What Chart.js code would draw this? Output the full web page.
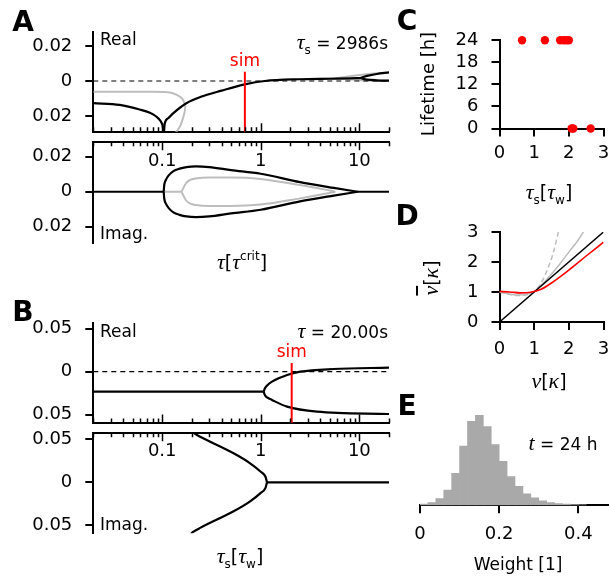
<!DOCTYPE html>
<html lang="en">
<head>
<meta charset="UTF-8">
<title>Eigenvalues and lifetimes</title>
<script src="https://cdn.jsdelivr.net/npm/chart.js@4.4.0/dist/chart.umd.min.js"></script>
<style>
  body { margin: 0; background: #fff; }
  #fig { position: relative; width: 609px; height: 583px; overflow: hidden; font-family: 'DejaVu Sans', sans-serif; color: #000; }
  #fig canvas { position: absolute; left: 0; top: 0; }
  .t, .tl, .tr, .lt, .rot { position: absolute; white-space: nowrap; line-height: 1; font-size: 17px; }
  .t { transform: translate(-50%, -50%); }
  .tl { transform: translateY(-50%); }
  .tr { transform: translateY(-50%); }
  .rot { transform: translate(-50%, -50%) rotate(-90deg); font-size: 18px; }
  .lt { transform: translate(-50%, -50%); font-weight: bold; font-size: 28px; }
  .m { font-family: 'Liberation Serif', serif; font-style: italic; font-size: 22px; }
  .s { font-size: 12px; position: relative; top: 5px; }
  .sup { font-size: 12px; position: relative; top: -9px; }
  .br { font-size: 19px; }
  .ov { text-decoration: overline; }
</style>
</head>
<body>
<div id="fig"></div>
<script>
// ---- data ----
const logMajor = [0.1, 1, 10];
const logLabels = ['0.1', '1', '10'];
const logMinor = [0.02, 0.03, 0.04, 0.05, 0.06, 0.07, 0.08, 0.09,
  0.2, 0.3, 0.4, 0.5, 0.6, 0.7, 0.8, 0.9, 2, 3, 4, 5, 6, 7, 8, 9, 20];

// A: real part, tau_s = 2986 s
const aRealBlkLeft = [[0.02,-0.0127],[0.037,-0.0137],[0.059,-0.0163],[0.075,-0.0182],[0.087,-0.0203],[0.096,-0.0228],[0.101,-0.0255],[0.104,-0.0300]];
const aRealBlkMid = [[0.104,-0.0300],[0.106,-0.0245],[0.115,-0.0213],[0.129,-0.0185],[0.176,-0.0127],[0.243,-0.0092],[0.4,-0.0055],[0.69,-0.0019],[1.1,0.0000],[2.5,0.0010],[5,0.0013],[8,0.0015],[10.2,0.0017]];
const aRealBlkUp = [[10.2,0.0017],[12,0.0029],[15,0.0040],[20,0.0049]];
const aRealBlkLo = [[10.2,0.0017],[12,0.0008],[15,0.0004],[20,0.0002]];
const aRealGrayLeft = [[0.02,-0.0061],[0.08,-0.0062],[0.12,-0.0066],[0.139,-0.0078],[0.155,-0.0095],[0.165,-0.0115],[0.171,-0.0145],[0.17,-0.0168],[0.164,-0.0205],[0.153,-0.0255],[0.136,-0.0300]];
const aRealGrayUp = [[3,0.0011],[5,0.0014],[5.7,0.0016],[8,0.0027],[10,0.0034],[14,0.0043],[20,0.0049]];
const aRealGrayLo = [[5.7,0.0016],[8,0.0009],[10,0.0005],[14,0.0002],[20,0.0001]];
const zeroLine = [[0.02,0],[20,0]];
const simA = 0.69, simTopA = 0.0053;

// A: imaginary part
const aImagBlkUp = [[0.1035,0],[0.105,0.0040],[0.109,0.0068],[0.117,0.0095],[0.13,0.0118],[0.15,0.0132],[0.176,0.0141],[0.22,0.0145],[0.3,0.0141],[0.5,0.0124],[1,0.0103],[2.5,0.0055],[5.5,0.0022],[9.7,0]];
const aImagBlkLo = [[0.1035,0],[0.105,-0.0040],[0.109,-0.0068],[0.117,-0.0095],[0.13,-0.0118],[0.15,-0.0132],[0.176,-0.0141],[0.22,-0.0145],[0.3,-0.0141],[0.5,-0.0124],[1,-0.0103],[2.5,-0.0055],[5.5,-0.0022],[9.7,0]];
const aImagBlkZeroL = [[0.02,0],[0.1035,0]];
const aImagBlkZeroR = [[9.7,0],[20,0]];
const aImagGrayUp = [[0.157,0],[0.175,0.0050],[0.19,0.0066],[0.22,0.0076],[0.3,0.0081],[0.5,0.0081],[1,0.0073],[2.5,0.0038],[4.5,0.0012],[5.7,0]];
const aImagGrayLo = [[0.157,0],[0.175,-0.0050],[0.19,-0.0066],[0.22,-0.0076],[0.3,-0.0081],[0.5,-0.0081],[1,-0.0073],[2.5,-0.0038],[4.5,-0.0012],[5.7,0]];
const aImagGrayZero = [[0.1035,0],[0.157,0]];

// B: real part, tau = 20 s
const bRealBlkFlat = [[0.02,-0.0233],[1.07,-0.0233]];
const bRealBlkUp = [[1.07,-0.0233],[1.1,-0.0195],[1.16,-0.0160],[1.3,-0.0116],[1.85,-0.0038],[2.52,0.0000],[5.45,0.0031],[20,0.0047]];
const bRealBlkLo = [[1.07,-0.0233],[1.1,-0.0270],[1.16,-0.0300],[1.3,-0.0329],[1.85,-0.0407],[3.72,-0.0465],[20,-0.0492]];
const simB = 2.06, simTopB = 0.0101;

// B: imaginary part
const bImagBlkUp = [[0.195,0.0600],[0.206,0.0577],[0.243,0.0530],[0.53,0.0337],[0.78,0.0221],[1.0,0.0123],[1.117,0.0065],[1.157,0]];
const bImagBlkLo = [[0.195,-0.0600],[0.206,-0.0577],[0.243,-0.0530],[0.53,-0.0337],[0.78,-0.0221],[1.0,-0.0123],[1.117,-0.0065],[1.157,0]];
const bImagBlkZero = [[1.157,0],[20,0]];

const yTicksA = [-0.02, 0, 0.02], yLabelsA = ['0.02', '0', '0.02'];
const yTicksB = [-0.05, 0, 0.05], yLabelsB = ['0.05', '0', '0.05'];

// C: lifetime vs tau_s
const cTau = [0.65, 1.31, 1.75, 1.85, 1.93, 2.0, 2.08, 2.13, 2.63];
const cLife = [24, 24, 24, 24, 24, 24, 0, 0, 0];
const cXTicks = [0, 1, 2, 3], cYTicks = [0, 6, 12, 18, 24];

// D: nu-bar vs nu
const dIdentity = [[0,0],[3,3]];
const dRed = [[0,1.02],[0.3,1.0],[0.6,0.97],[0.9,0.99],[1.2,1.09],[1.5,1.3],[2,1.73],[2.5,2.2],[3,2.66]];
const dGrayDash = [[0,1.0],[0.25,0.93],[0.5,0.88],[0.75,0.9],[1,1.02],[1.2,1.3],[1.4,1.8],[1.55,2.3],[1.7,3.0]];
const dGraySolid = [[0,1.0],[0.5,0.9],[0.8,0.93],[1,1.02],[1.25,1.28],[1.5,1.6],[1.75,1.95],[2,2.33],[2.25,2.7],[2.42,3.0]];
const dTicks = [0, 1, 2, 3];

// E: weight histogram at t = 24 h
const eBins = [0.01,0.03,0.05,0.07,0.09,0.11,0.13,0.15,0.17,0.19,0.21,0.23,0.25,0.27,0.29,0.31,0.33,0.35,0.37,0.39,0.41];
const eCounts = [1.3,2.7,6.7,15.3,32,59.3,84,90,78.7,60.7,44,28.7,19,11.5,7.5,4.5,2.8,1.8,1.1,0.7,0.4];
const eTicks = [0, 0.2, 0.4], eTickLabels = ['0', '0.2', '0.4'];

// ---- drawing ----
const W = 609, H = 583;
const RED = '#ff0000', GRAY = '#bdbdbd', HIST = '#a9a9a9';
const TICK_FONT = { family: 'DejaVu Sans', size: 18 };
Chart.defaults.font.family = 'DejaVu Sans';
const fig = document.getElementById('fig');

function newCanvas() {
  const c = document.createElement('canvas');
  c.width = W; c.height = H;
  fig.appendChild(c);
  return c;
}
function pts(a) { return a.map(p => ({ x: p[0], y: p[1] })); }
// smooth: a number gives a plain bezier tension, otherwise monotone (x increasing)
function curve(a, color, w, dash, smooth) {
  const ds = { data: pts(a), borderColor: color, borderWidth: w, borderDash: dash || [],
    pointRadius: 0, fill: false };
  if (typeof smooth === 'number') { ds.tension = smooth; }
  else { ds.tension = 0.4; ds.cubicInterpolationMode = 'monotone'; }
  return ds;
}

function yAxis(min, max, vals, labels, plotLeft) {
  return {
    type: 'linear', position: 'left', min, max,
    afterBuildTicks: s => { s.ticks = vals.map(v => ({ value: v })); },
    afterFit: s => { s.width = plotLeft; s.paddingTop = 0; s.paddingBottom = 0; },
    ticks: { callback: (v, i) => labels[i], color: '#000', font: TICK_FONT, padding: 13, autoSkip: false },
    grid: { drawOnChartArea: false, drawTicks: true, tickLength: 8, color: '#000', lineWidth: 2 },
    border: { display: true, color: '#000', width: 2 }
  };
}
function xAxis(min, max, vals, labels, size, pad) {
  return {
    type: 'linear', position: 'bottom', min, max, offset: false,
    afterBuildTicks: s => { s.ticks = vals.map(v => ({ value: v })); },
    afterFit: s => { s.height = size; s.paddingLeft = 0; s.paddingRight = 0; },
    ticks: { callback: (v, i) => labels[i], color: '#000', font: TICK_FONT, padding: pad, autoSkip: false, maxRotation: 0 },
    grid: { drawOnChartArea: false, drawTicks: true, tickLength: 8, color: '#000', lineWidth: 2, offset: false },
    border: { display: true, color: '#000', width: 2 }
  };
}
function logX(pos, size) {
  return {
    type: 'logarithmic', position: pos, min: 0.02, max: 20,
    afterFit: s => { s.height = size; s.paddingLeft = 0; s.paddingRight = 0; },
    ticks: { display: false }, grid: { display: false },
    border: { display: true, color: '#000', width: 2 }
  };
}
function baseOptions(padding, scales, extra) {
  return {
    responsive: false, animation: false, devicePixelRatio: 1,
    layout: { padding, autoPadding: false },
    plugins: Object.assign({ legend: { display: false }, tooltip: { enabled: false } }, extra || {}),
    scales
  };
}

// log-axis ticks pointing into the plot, optional labels
const logTickPlugin = {
  id: 'logTicks',
  afterDatasetsDraw(chart, args, o) {
    const xs = chart.scales.x, a = chart.chartArea, ctx = chart.ctx;
    const y0 = o.side === 'top' ? a.top : a.bottom;
    const dir = o.side === 'top' ? 1 : -1;
    ctx.save();
    ctx.strokeStyle = '#000'; ctx.lineWidth = 1.5;
    ctx.beginPath();
    logMinor.forEach(v => {
      const x = Math.round(xs.getPixelForValue(v)) + 0.5;
      ctx.moveTo(x, y0); ctx.lineTo(x, y0 + dir * 4.5);
    });
    logMajor.forEach(v => {
      const x = Math.round(xs.getPixelForValue(v)) + 0.5;
      ctx.moveTo(x, y0); ctx.lineTo(x, y0 + dir * 8.5);
    });
    ctx.stroke();
    if (o.labels) {
      ctx.fillStyle = '#000'; ctx.font = '18px "DejaVu Sans"';
      ctx.textAlign = 'center'; ctx.textBaseline = 'middle';
      logMajor.forEach((v, i) => ctx.fillText(logLabels[i], xs.getPixelForValue(v), y0 + o.labelDy));
    }
    ctx.restore();
  }
};
const simPlugin = {
  id: 'simLabel',
  afterDatasetsDraw(chart, args, o) {
    const ctx = chart.ctx;
    const x = chart.scales.x.getPixelForValue(o.x), y = chart.scales.y.getPixelForValue(o.y);
    ctx.save();
    ctx.fillStyle = RED; ctx.font = '17px "DejaVu Sans"';
    ctx.textAlign = 'center'; ctx.textBaseline = 'middle';
    ctx.fillText('sim', x, y - 10.5);
    ctx.restore();
  }
};

// A real
new Chart(newCanvas(), {
  type: 'line',
  data: { datasets: [
    curve([[simA, -0.03], [simA, simTopA]], RED, 2, null, 0),
    curve(aRealBlkLeft, '#000', 2.2), curve(aRealBlkMid, '#000', 2.2),
    curve(aRealBlkUp, '#000', 2.2), curve(aRealBlkLo, '#000', 2.2),
    curve(zeroLine, '#000', 1.2, [5, 4], 0),
    curve(aRealGrayLeft, GRAY, 2, null, 0.3), curve(aRealGrayUp, GRAY, 2), curve(aRealGrayLo, GRAY, 2)
  ] },
  options: baseOptions({ left: 0, top: 31.7, right: W - 389, bottom: 0 }, {
    x: logX('bottom', H - 131.7),
    y: yAxis(-0.029, 0.0282, yTicksA, yLabelsA, 93.3)
  }, { logTicks: { side: 'bottom', labels: false }, simLabel: { x: simA, y: simTopA } }),
  plugins: [logTickPlugin, simPlugin]
});

// A imaginary
new Chart(newCanvas(), {
  type: 'line',
  data: { datasets: [
    curve(aImagBlkUp, '#000', 2.2), curve(aImagBlkLo, '#000', 2.2),
    curve(aImagBlkZeroL, '#000', 2.2, null, 0), curve(aImagBlkZeroR, '#000', 2.2, null, 0),
    curve(aImagGrayUp, GRAY, 2), curve(aImagGrayLo, GRAY, 2), curve(aImagGrayZero, GRAY, 2, null, 0)
  ] },
  options: baseOptions({ left: 0, top: 0, right: W - 389, bottom: H - 243 }, {
    x: logX('top', 141.7),
    y: yAxis(-0.0293, 0.0286, yTicksA, yLabelsA, 93.3)
  }, { logTicks: { side: 'top', labels: true, labelDy: 20 } }),
  plugins: [logTickPlugin]
});

// B real
new Chart(newCanvas(), {
  type: 'line',
  data: { datasets: [
    curve([[simB, -0.07], [simB, simTopB]], RED, 2, null, 0),
    curve(bRealBlkFlat, '#000', 2.2, null, 0), curve(bRealBlkUp, '#000', 2.2), curve(bRealBlkLo, '#000', 2.2),
    curve(zeroLine, '#000', 1.2, [5, 4], 0)
  ] },
  options: baseOptions({ left: 0, top: 322.7, right: W - 389, bottom: 0 }, {
    x: logX('bottom', H - 423),
    y: yAxis(-0.0597, 0.057, yTicksB, yLabelsB, 93.3)
  }, { logTicks: { side: 'bottom', labels: false }, simLabel: { x: simB, y: simTopB } }),
  plugins: [logTickPlugin, simPlugin]
});

// B imaginary
new Chart(newCanvas(), {
  type: 'line',
  data: { datasets: [
    curve(bImagBlkUp, '#000', 2.2), curve(bImagBlkLo, '#000', 2.2), curve(bImagBlkZero, '#000', 2.2, null, 0)
  ] },
  options: baseOptions({ left: 0, top: 0, right: W - 389, bottom: H - 533.3 }, {
    x: logX('top', 432.7),
    y: yAxis(-0.0593, 0.0577, yTicksB, yLabelsB, 93.3)
  }, { logTicks: { side: 'top', labels: true, labelDy: 19 } }),
  plugins: [logTickPlugin]
});

// C
new Chart(newCanvas(), {
  type: 'scatter',
  data: { datasets: [{
    data: cTau.map((t, i) => ({ x: t, y: cLife[i] })),
    backgroundColor: RED, borderWidth: 0, pointRadius: 4.2, clip: false
  }] },
  options: baseOptions({ left: 0, top: 40.3, right: W - 603.5, bottom: 0 }, {
    x: xAxis(0, 3, cXTicks, cXTicks.map(String), H - 128.5, 6),
    y: yAxis(0, 24, cYTicks, cYTicks.map(String), 499.5)
  })
});

// D
new Chart(newCanvas(), {
  type: 'line',
  data: { datasets: [
    curve(dRed, RED, 1.6),
    curve(dIdentity, '#000', 1.5, null, 0),
    curve(dGraySolid, GRAY, 1.5),
    curve(dGrayDash, GRAY, 1.5, [5, 3])
  ] },
  options: baseOptions({ left: 0, top: 232, right: W - 603.5, bottom: 0 }, {
    x: xAxis(0, 3, dTicks, dTicks.map(String), H - 322, 9),
    y: yAxis(0, 3, dTicks, dTicks.map(String), 499.5)
  })
});

// E
new Chart(newCanvas(), {
  type: 'bar',
  data: { datasets: [{
    data: eBins.map((b, i) => ({ x: b, y: eCounts[i] })),
    backgroundColor: HIST, borderWidth: 0, barPercentage: 1, categoryPercentage: 1
  }] },
  options: baseOptions({ left: 420, top: 405.3, right: W - 608, bottom: 0 }, {
    x: xAxis(0, 0.475, eTicks, eTickLabels, H - 505.3, 10),
    y: { type: 'linear', display: false, min: 0, max: 100 }
  })
});

// ---- text ----
const texts = [
  ['lt', 'left:23px;top:22px', 'A'],
  ['lt', 'left:23px;top:312px', 'B'],
  ['lt', 'left:407px;top:21px', 'C'],
  ['lt', 'left:407px;top:216px', 'D'],
  ['lt', 'left:407px;top:406px', 'E'],
  ['tl', 'left:100px;top:39px', 'Real'],
  ['tl', 'left:100px;top:233px', 'Imag.'],
  ['tl', 'left:100px;top:331px', 'Real'],
  ['tl', 'left:100px;top:524px', 'Imag.'],
  ['tr', 'right:221px;top:42px', '<span class="m">τ</span><span class="s">s</span> = 2986s'],
  ['tr', 'right:221px;top:331px', '<span class="m">τ</span> = 20.00s'],
  ['t', 'left:242px;top:262px', '<span class="m">τ</span><span class="br">[</span><span class="m">τ</span><span class="sup">crit</span><span class="br">]</span>'],
  ['t', 'left:240px;top:556px', '<span class="m">τ</span><span class="s">s</span><span class="br">[</span><span class="m">τ</span><span class="s">w</span><span class="br">]</span>'],
  ['t', 'left:549px;top:192px', '<span class="m">τ</span><span class="s">s</span><span class="br">[</span><span class="m">τ</span><span class="s">w</span><span class="br">]</span>'],
  ['rot', 'left:428px;top:84px', 'Lifetime [h]'],
  ['rot', 'left:431px;top:278px', '<span class="m ov">ν</span><span class="br">[</span><span class="m">κ</span><span class="br">]</span>'],
  ['t', 'left:549px;top:381px', '<span class="m">ν</span><span class="br">[</span><span class="m">κ</span><span class="br">]</span>'],
  ['t', 'left:563px;top:443px', '<span class="m">t</span> = 24 h'],
  ['t', 'left:518px;top:564px', 'Weight [1]']
];
texts.forEach(([cls, style, html]) => {
  const d = document.createElement('div');
  d.className = cls; d.style.cssText = style; d.innerHTML = html;
  fig.appendChild(d);
});
</script>
</body>
</html>
